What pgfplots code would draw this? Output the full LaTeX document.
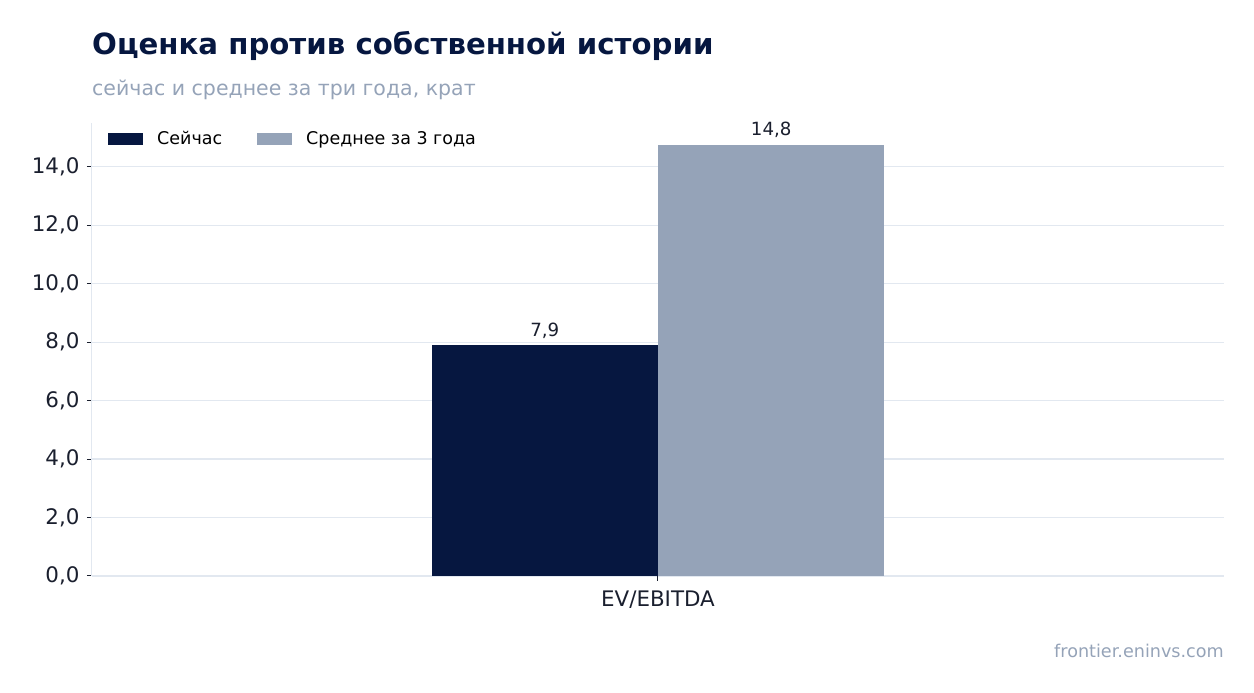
\documentclass[border=0pt]{standalone}
\usepackage{fontspec}
\setmainfont{DejaVu Sans}
\usepackage{pgfplots}
\pgfplotsset{compat=1.18}

\definecolor{navy}{HTML}{061740}
\definecolor{slate}{HTML}{95A3B8}
\definecolor{gridc}{HTML}{E2E8F0}
\definecolor{inkc}{HTML}{1A1F2E}

\begin{document}
\begin{tikzpicture}[x=1pt,y=1pt]
\path[use as bounding box] (0,0) rectangle (1254,693);
\node[anchor=base west,inner sep=0pt,text=navy,font=\fontsize{29.2}{33}\selectfont\bfseries] at (92,638) {Оценка против собственной истории};
\node[anchor=base west,inner sep=0pt,text=slate,font=\fontsize{20.5}{24}\selectfont] at (92,597) {сейчас и среднее за три года, крат};
\node[anchor=base east,inner sep=0pt,text=slate,font=\fontsize{17.6}{20}\selectfont] at (1224,35) {frontier.eninvs.com};
\begin{axis}[
    at={(92pt,117pt)}, anchor=south west,
    scale only axis,
    width=1132pt, height=453pt,
    ybar=0pt, bar width=0.4,
    xmin=-1, xmax=1,
    ymin=0, ymax=15.5,
    xtick={0}, xticklabels={EV/EBITDA},
    ytick={0,2,4,6,8,10,12,14},
    axis lines=left,
    axis line style={draw=gridc, line width=1pt, -},
    ymajorgrids=true,
    grid style={draw=gridc, line width=1.3pt},
    tick align=outside,
    major tick length=5pt,
    tick style={draw=inkc, line width=1pt},
    ticklabel style={text=inkc, font=\fontsize{21.4}{25}\selectfont},
    /pgf/number format/assume math mode=true,
    yticklabel style={xshift=-4pt, /pgf/number format/.cd, fixed, fixed zerofill, precision=1, use comma},
    xticklabel style={yshift=-6pt},
    nodes near coords,
    nodes near coords style={text=inkc, font=\fontsize{18.2}{21}\selectfont, yshift=3pt,
        /pgf/number format/.cd, fixed, fixed zerofill, precision=1, use comma},
    legend columns=2,
    legend style={at={(0.0,1.0)}, anchor=north west, draw=none, fill=none,
        font=\fontsize{17.5}{20}\selectfont, text=black,
        inner xsep=16pt, inner ysep=6pt,
        /tikz/every odd column/.append style={column sep=12pt},
        /tikz/every even column/.append style={column sep=33pt}},
    legend image code/.code={\fill[#1] (0pt,-6pt) rectangle (35pt,6pt);},
]
\addplot[fill=navy, draw=none] coordinates {(0,7.9)};
\addlegendentry{Сейчас}
\addplot[fill=slate, draw=none] coordinates {(0,14.76)};
\addlegendentry{Среднее за 3 года}
\end{axis}
\end{tikzpicture}
\end{document}
